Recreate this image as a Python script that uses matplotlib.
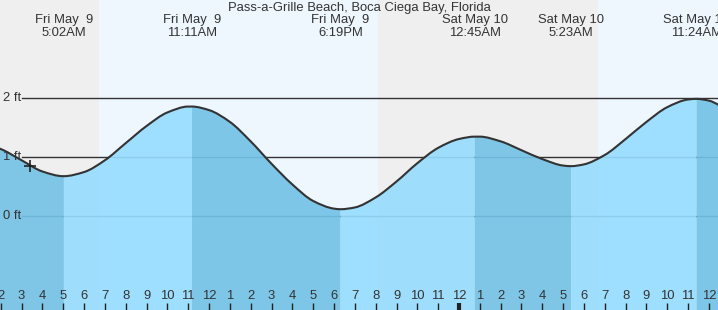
import matplotlib
matplotlib.use("Agg")
import matplotlib.pyplot as plt
from matplotlib.path import Path
from matplotlib.patches import PathPatch

plt.rcParams['font.family'] = ['Liberation Sans', 'DejaVu Sans']

# ---- data (hours counted from Fri May 9, 00:00) ----
title = "Pass-a-Grille Beach, Boca Ciega Bay, Florida"

hour_times = list(range(1, 38))
hour_heights = [1.25, 1.14, 0.95, 0.76, 0.68, 0.75, 0.95, 1.24, 1.53, 1.76,
                1.86, 1.80, 1.60, 1.27, 0.89, 0.54, 0.26, 0.13, 0.15, 0.32,
                0.59, 0.90, 1.16, 1.31, 1.35, 1.27, 1.12, 0.97, 0.86, 0.88,
                1.04, 1.31, 1.60, 1.85, 1.98, 1.96, 1.77]

extreme_times = [0.8, 5.033, 11.183, 18.317, 24.75, 29.383, 35.4]
extreme_heights = [1.25, 0.68, 1.86, 0.12, 1.35, 0.85, 1.99]
extreme_kind = ["H", "L", "H", "L", "H", "L", "H"]
extreme_labels = [None, "Fri May  9\n5:02AM", "Fri May  9\n11:11AM",
                  "Fri May  9\n6:19PM", "Sat May 10\n12:45AM",
                  "Sat May 10\n5:23AM", "Sat May 10\n11:24AM"]

sun_times = [6.72, 20.11, 30.67]   # sunrise, sunset, sunrise
now_time, now_height = 3.4, 0.85

ft_levels = [0, 1, 2]
ft_labels = ["0 ft", "1 ft", "2 ft"]

tick_hours = list(range(2, 37))
tick_labels = [str((h - 1) % 12 + 1) for h in tick_hours]

# ---- figure ----
W, H = 718, 310
fig = plt.figure(figsize=(W / 100, H / 100), dpi=100)
ax = fig.add_axes([0, 0, 1, 1])
x0, x1 = 1.965, 36.434
y0, y1 = -1.588, 3.666
ax.set_xlim(x0, x1)
ax.set_ylim(y0, y1)
ax.axis('off')

night = '#efefef'
day = '#eef6fe'
ax.axvspan(x0, sun_times[0], color=night, lw=0, zorder=0)
ax.axvspan(sun_times[0], sun_times[1], color=day, lw=0, zorder=0)
ax.axvspan(sun_times[1], sun_times[2], color=night, lw=0, zorder=0)
ax.axvspan(sun_times[2], x1, color=day, lw=0, zorder=0)

# horizontal ft lines
lab_end = x0 + 22 / 20.83
for lv in ft_levels:
    ax.plot([lab_end, x1], [lv, lv], color='#333333', lw=1.0, zorder=1)

# merged points
pts = sorted(zip(hour_times + extreme_times, hour_heights + extreme_heights))
ts = [p[0] for p in pts]
hs = [p[1] for p in pts]
n = len(ts)

# monotone cubic tangents (zero at local extrema) -> smooth Bezier drawing
slopes = [(hs[i + 1] - hs[i]) / (ts[i + 1] - ts[i]) for i in range(n - 1)]
tang = [0.0] * n
tang[0] = slopes[0]
tang[-1] = slopes[-1]
for i in range(1, n - 1):
    a, b = slopes[i - 1], slopes[i]
    if a * b <= 0:
        tang[i] = 0.0
    else:
        tang[i] = 2.0 / (1.0 / a + 1.0 / b)


def curve_path(i0, i1, close_to=None):
    verts = [(ts[i0], hs[i0])]
    codes = [Path.MOVETO]
    for i in range(i0, i1):
        dt = ts[i + 1] - ts[i]
        verts += [(ts[i] + dt / 3, hs[i] + tang[i] * dt / 3),
                  (ts[i + 1] - dt / 3, hs[i + 1] - tang[i + 1] * dt / 3),
                  (ts[i + 1], hs[i + 1])]
        codes += [Path.CURVE4] * 3
    if close_to is not None:
        verts += [(ts[i1], close_to), (ts[i0], close_to), (ts[i0], hs[i0])]
        codes += [Path.LINETO, Path.LINETO, Path.CLOSEPOLY]
    return Path(verts, codes)


light = '#97dcfe'
dark = '#74c2e6'
idx_ext = [ts.index(t) for t in extreme_times]
bounds = [0] + idx_ext[1:] + [n - 1]
for k in range(len(bounds) - 1):
    if k == 0:
        col = dark
    else:
        col = dark if extreme_kind[k] == "H" else light
    ax.add_patch(PathPatch(curve_path(bounds[k], bounds[k + 1], close_to=y0),
                           facecolor=col, edgecolor='none', alpha=0.92, zorder=2))

ax.add_patch(PathPatch(curve_path(0, n - 1), facecolor='none',
                       edgecolor='#333333', lw=1.5, zorder=3))
ax.plot([now_time], [now_height], marker='+', color='#222222', ms=9, mew=1.2, zorder=4)

fs = 9.4
tc = '#333333'
for lv, lb in zip(ft_levels, ft_labels):
    ax.text(x0 + 2.5 / 20.83, lv, lb, ha='left', va='center', fontsize=fs,
            color=tc, zorder=5)

ax.text((x0 + x1) / 2, y1 - 7.5 / 59, title, ha='center', va='center',
        fontsize=fs, color=tc, zorder=5)
for t, lb in zip(extreme_times, extreme_labels):
    if lb is None:
        continue
    d, tm = lb.split("\n")
    ax.text(t, y1 - 19.5 / 59, d, ha='center', va='center', fontsize=fs, color=tc, zorder=5)
    ax.text(t, y1 - 32.5 / 59, tm, ha='center', va='center', fontsize=fs, color=tc, zorder=5)

for h, lb in zip(tick_hours, tick_labels):
    lw = 3 if h == 24 else 1
    ax.plot([h, h], [y0, y0 + 7 / 59], color='#222222', lw=lw, zorder=5,
            solid_capstyle='butt')
    ax.text(h, y0 + 14 / 59, lb, ha='center', va='center', fontsize=fs, color=tc, zorder=5)

fig.savefig('out.png', dpi=100)
